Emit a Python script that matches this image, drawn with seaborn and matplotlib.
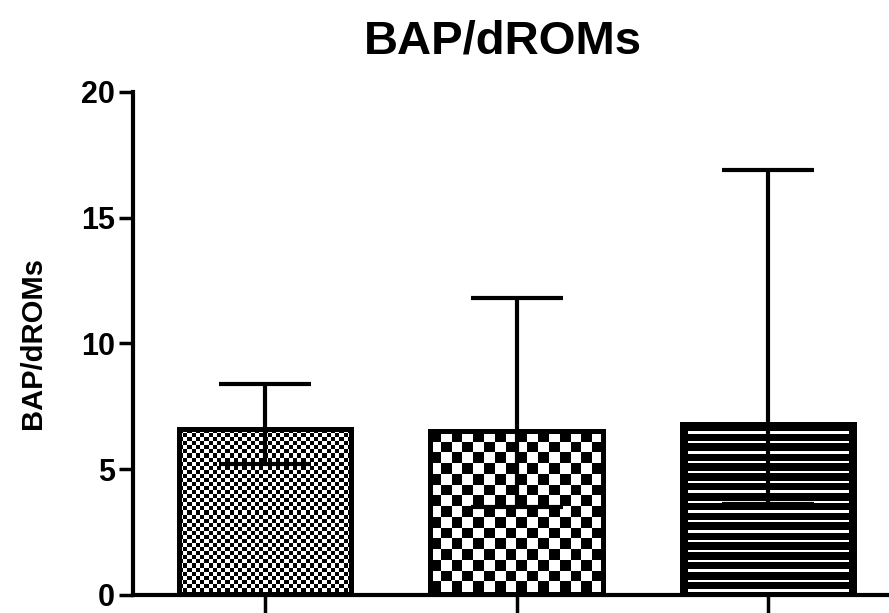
import numpy as np
import pandas as pd
import matplotlib
matplotlib.use("Agg")
import matplotlib.pyplot as plt
import seaborn as sns

# data
groups = ["Group 1", "Group 2", "Group 3"]
means = [6.6, 6.5, 6.8]
err_low = [5.2, 3.5, 3.6]
err_high = [8.4, 11.8, 16.9]
y_ticks = [0, 5, 10, 15, 20]

sns.set_style("ticks")
plt.rcParams["font.family"] = ["Liberation Sans", "DejaVu Sans"]
plt.rcParams["font.weight"] = "bold"
plt.rcParams["text.color"] = "black"
plt.rcParams["axes.labelcolor"] = "black"
plt.rcParams["xtick.color"] = "black"
plt.rcParams["ytick.color"] = "black"
plt.rcParams["axes.edgecolor"] = "black"

df = pd.DataFrame({"group": groups, "value": means})

fig = plt.figure(figsize=(8.89, 6.13), dpi=100)
ax = fig.add_axes([0.1496, 0.0294, 0.8504, 0.8206])

sns.barplot(data=df, x="group", y="value", errorbar=None, width=0.685,
            color="black", edgecolor="black", linewidth=3.6, ax=ax, zorder=2)

xlim = (-0.525, 2.48)
ylim = (0, 20)
px_x = 756 / (xlim[1] - xlim[0])   # pixels per x unit
px_y = 503 / (ylim[1] - ylim[0])   # pixels per y unit


def texture(kind, w_px, h_px):
    if kind == "fine":
        c = 4.2
        nx, ny = int(round(w_px / c)), int(round(h_px / c))
        i, j = np.indices((ny, nx))
        return (i + j) % 2
    if kind == "checker":
        c = 10.6
        nx, ny = int(round(w_px / c)), int(round(h_px / c))
        i, j = np.indices((ny, nx))
        return (i + j) % 2
    # horizontal stripes: thin white lines on black
    ny = int(round(h_px))
    rows = np.zeros((ny, 1))
    period = 10.5
    for k in range(ny):
        if (k % period) < 2.5:
            rows[k, 0] = 1
    return rows


kinds = ["fine", "checker", "stripes"]
for patch, kind in zip(ax.patches, kinds):
    x0, y0 = patch.get_x(), patch.get_y()
    w, h = patch.get_width(), patch.get_height()
    patch.set_facecolor("black")
    inset = 0
    if kind == "stripes":
        inset = 6 / px_x
    img = texture(kind, (w - 2 * inset) * px_x, h * px_y)
    top = y0 + h - (8 / px_y if kind == "stripes" else 0)
    im = ax.imshow(img, extent=[x0 + inset, x0 + w - inset, y0 + 3 / px_y, top],
                   cmap="gray", vmin=0, vmax=1, interpolation="nearest",
                   aspect="auto", origin="upper", zorder=2.5)
    im.set_clip_path(patch)
    # outline on top of the texture
    ax.add_patch(plt.Rectangle((x0, y0), w, h, facecolor="none",
                               edgecolor="black", linewidth=3.6, zorder=3))

xpos = np.arange(len(groups))
yerr = [np.array(means) - np.array(err_low), np.array(err_high) - np.array(means)]
ax.errorbar(xpos, means, yerr=yerr, fmt="none", ecolor="black",
            elinewidth=3, capsize=33, capthick=3, zorder=4)

ax.set_xlim(*xlim)
ax.set_ylim(*ylim)
ax.set_yticks(y_ticks)
ax.set_xticks(xpos)
ax.set_xticklabels([])
ax.set_xlabel("")
ax.set_ylabel("BAP/dROMs", fontsize=21, fontweight="bold")
ax.yaxis.set_label_coords(-0.114, 0.5)
ax.set_title("BAP/dROMs", fontsize=34, fontweight="bold", pad=28, x=0.49)

ax.tick_params(axis="y", direction="out", length=10, width=2.5, labelsize=22, pad=3)
ax.tick_params(axis="x", direction="out", length=13, width=2.5)
for lab in ax.get_yticklabels():
    lab.set_fontweight("bold")

sns.despine(ax=ax)
for s in ["left", "bottom"]:
    ax.spines[s].set_linewidth(3)
    ax.spines[s].set_color("black")

fig.savefig("out.png", dpi=100)
